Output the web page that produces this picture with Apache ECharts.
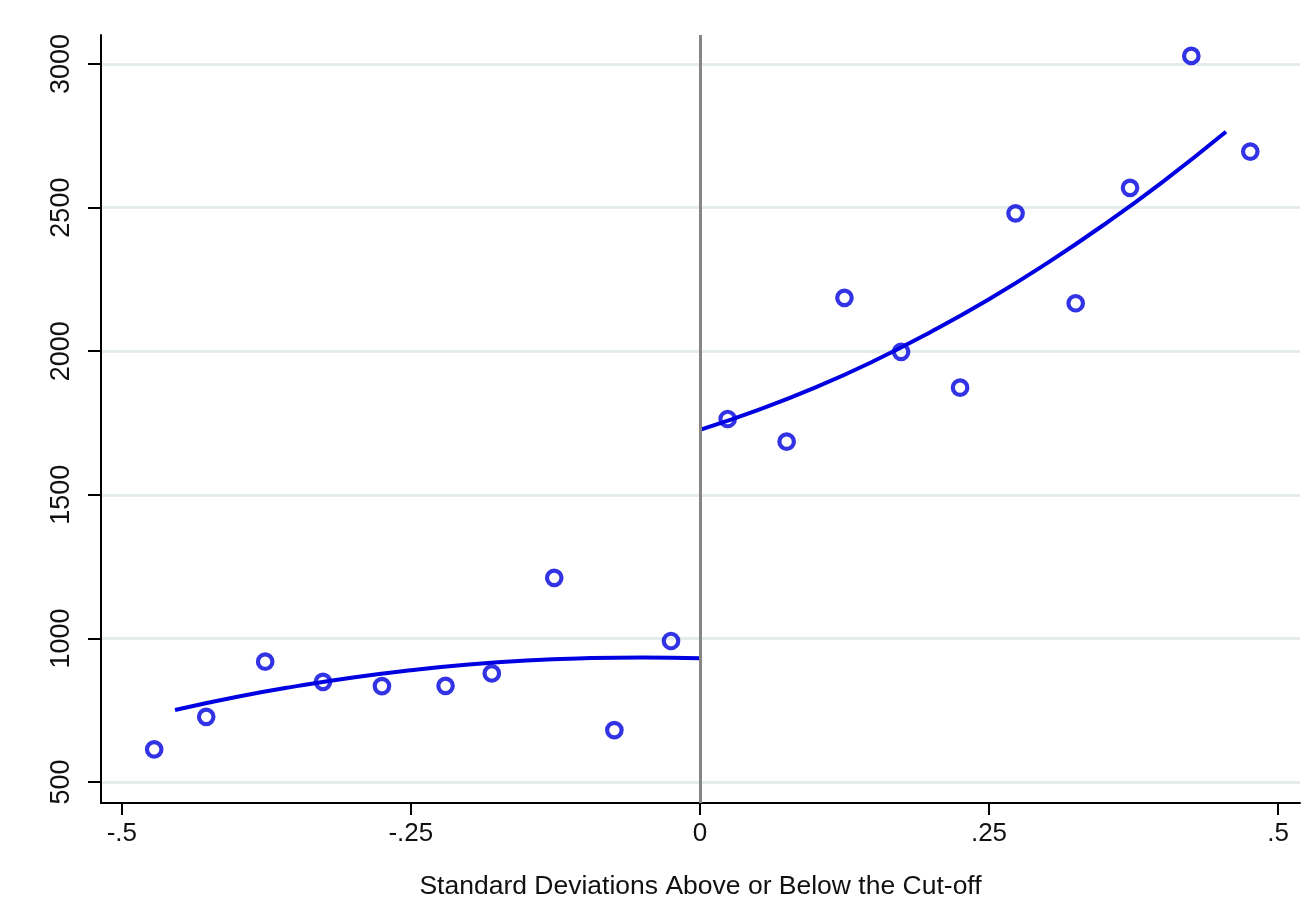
<!DOCTYPE html>
<html>
<head>
<meta charset="utf-8">
<script src="https://cdn.jsdelivr.net/npm/echarts@6/dist/echarts.min.js"></script>
<style>
  html, body { margin: 0; padding: 0; background: #fff; }
  #chart { width: 1303px; height: 899px; }
</style>
</head>
<body>
<div id="chart"></div>
<script>
// binned means, below / above the cut-off
const leftBins = [
  [-0.472, 614], [-0.427, 727], [-0.376, 919], [-0.326, 849], [-0.275, 834],
  [-0.220, 835], [-0.180, 878], [-0.126, 1211], [-0.074, 681], [-0.025, 991]
];
const rightBins = [
  [0.024, 1764], [0.075, 1685], [0.125, 2186], [0.174, 1998], [0.225, 1873],
  [0.273, 2480], [0.325, 2167], [0.372, 2569], [0.425, 3028], [0.476, 2695]
];

// fitted curves
const leftFit = [
  [-0.454, 751], [-0.4, 797], [-0.35, 833], [-0.3, 864], [-0.25, 889],
  [-0.2, 909], [-0.15, 923], [-0.1, 931], [-0.05, 934], [0, 931]
];
const rightFit = [
  [0, 1726], [0.05, 1795], [0.1, 1874], [0.15, 1965], [0.2, 2068],
  [0.25, 2181], [0.3, 2306], [0.35, 2442], [0.4, 2589], [0.455, 2764]
];

const xTicks = [-0.5, -0.25, 0, 0.25, 0.5];
const yTicks = [500, 1000, 1500, 2000, 2500, 3000];
const xTitle = 'Standard Deviations Above or Below the Cut-off';

const blue = '#0000e0';
const font = '"Liberation Sans", Arial, sans-serif';

function fmtX(v) {
  if (v === 0) return '0';
  return String(v).replace('0.', '.');
}

const chart = echarts.init(document.getElementById('chart'));

const option = {
  backgroundColor: '#fff',
  animation: false,
  grid: { left: 101, right: 3, top: 35, bottom: 96, outerBoundsMode: 'none', containLabel: false },
  xAxis: {
    type: 'value',
    min: -0.518,
    max: 0.519,
    name: xTitle,
    nameLocation: 'middle',
    nameGap: 70,
    nameTextStyle: { color: '#111', fontSize: 26.5, fontFamily: font },
    axisLine: { show: true, onZero: false, lineStyle: { color: '#000', width: 2 } },
    axisTick: { show: true, length: 12, customValues: xTicks, lineStyle: { color: '#000', width: 2 } },
    axisLabel: {
      customValues: xTicks,
      margin: 18,
      color: '#111',
      fontSize: 26,
      fontFamily: font,
      formatter: fmtX
    },
    splitLine: { show: false }
  },
  yAxis: {
    type: 'value',
    min: 427,
    max: 3101,
    axisLine: { show: true, onZero: false, lineStyle: { color: '#000', width: 2 } },
    axisTick: { show: true, length: 13, customValues: yTicks, lineStyle: { color: '#000', width: 2 } },
    axisLabel: {
      customValues: yTicks,
      rotate: 90,
      margin: 26,
      align: 'center',
      verticalAlign: 'bottom',
      color: '#111',
      fontSize: 27,
      fontFamily: font,
      formatter: function (v) { return String(v); }
    },
    splitLine: { show: true, lineStyle: { color: '#e4edeb', width: 3 } }
  },
  series: [
    {
      name: 'fit below',
      type: 'line',
      data: leftFit,
      smooth: true,
      showSymbol: false,
      lineStyle: { color: blue, width: 4 },
      z: 3
    },
    {
      name: 'fit above',
      type: 'line',
      data: rightFit,
      smooth: true,
      showSymbol: false,
      lineStyle: { color: blue, width: 4 },
      z: 3,
      markLine: {
        silent: true,
        symbol: 'none',
        label: { show: false },
        lineStyle: { color: '#858585', width: 3, type: 'solid' },
        data: [{ xAxis: 0 }]
      }
    },
    {
      name: 'below',
      type: 'scatter',
      data: leftBins,
      symbol: 'circle',
      symbolSize: 14.5,
      itemStyle: { color: 'rgba(255,255,255,0)', borderColor: blue, borderWidth: 4.2 },
      z: 4
    },
    {
      name: 'above',
      type: 'scatter',
      data: rightBins,
      symbol: 'circle',
      symbolSize: 14.5,
      itemStyle: { color: 'rgba(255,255,255,0)', borderColor: blue, borderWidth: 4.2 },
      z: 4
    }
  ]
};

chart.setOption(option);
</script>
</body>
</html>
